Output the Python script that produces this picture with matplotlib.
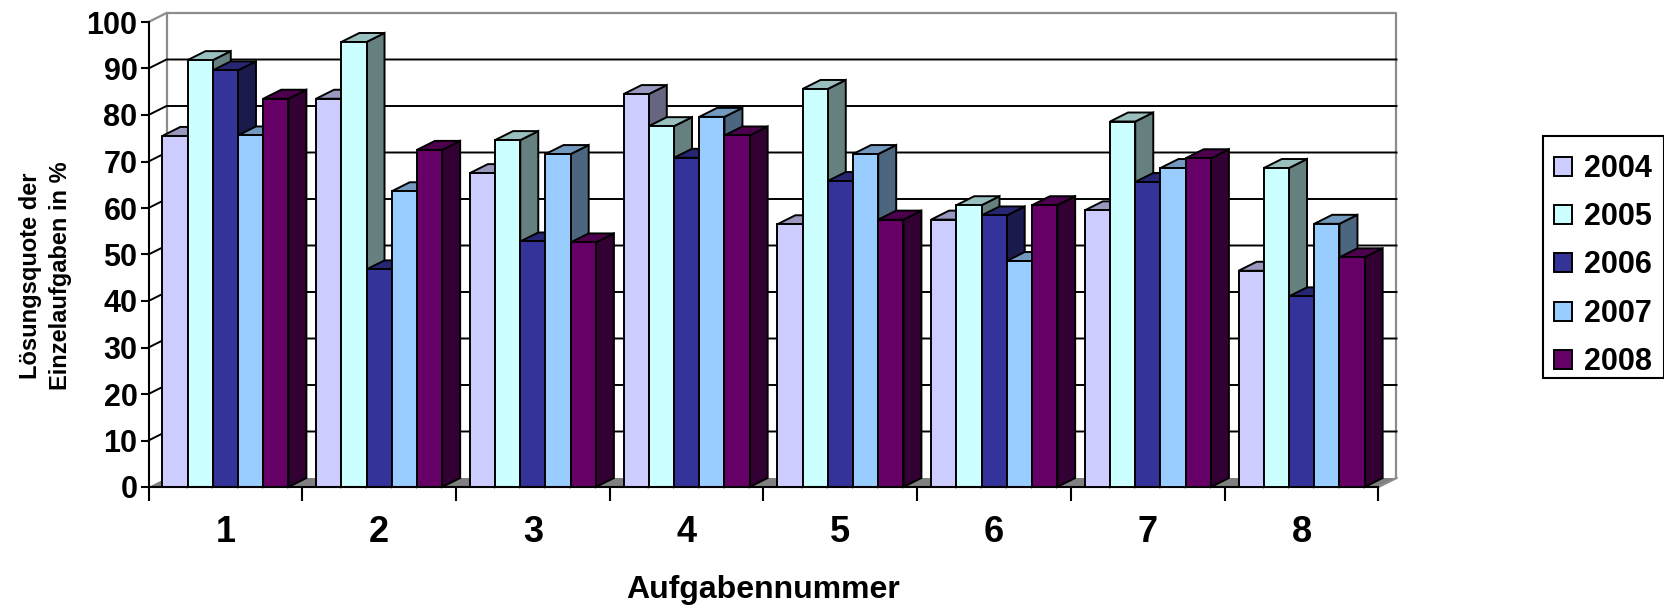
import matplotlib
matplotlib.use("Agg")
import matplotlib.pyplot as plt
from matplotlib.patches import Polygon, Rectangle
from matplotlib.colors import to_rgb

plt.rcParams['font.family'] = ['Liberation Sans', 'DejaVu Sans']
plt.rcParams['font.weight'] = 'bold'

tasks = ['1', '2', '3', '4', '5', '6', '7', '8']
years = ['2004', '2005', '2006', '2007', '2008']
v2004 = [75.5, 83.5, 67.5, 84.5, 56.5, 57.5, 59.5, 46.5]
v2005 = [91.8, 95.7, 74.6, 77.6, 85.6, 60.6, 78.6, 68.6]
v2006 = [89.6, 46.8, 52.8, 70.8, 65.8, 58.4, 65.6, 41.0]
v2007 = [75.6, 63.6, 71.6, 79.6, 71.6, 48.6, 68.6, 56.6]
v2008 = [83.5, 72.5, 52.6, 75.6, 57.5, 60.6, 70.7, 49.4]
series = [v2004, v2005, v2006, v2007, v2008]
colors = ['#CCCCFF', '#CCFFFF', '#333399', '#99CCFF', '#660066']
yticks = list(range(0, 101, 10))

W, H = 1665, 605
x0, x1, y0, y1 = 148.5, 1378.5, 487.0, 22.0
fig = plt.figure(figsize=(W / 100, H / 100), dpi=100, facecolor='white')
ax = fig.add_axes([x0 / W, 1 - y0 / H, (x1 - x0) / W, (y0 - y1) / H])
ax.set_xlim(0, 8)
ax.set_ylim(0, 100)
for s in ('top', 'right'):
    ax.spines[s].set_visible(False)
for s in ('left', 'bottom'):
    ax.spines[s].set_linewidth(1.5)
    ax.spines[s].set_zorder(6)

DX = 18.0 / 153.75          # depth in category units
DY = 9.0 / 4.65             # depth in percent units
GRAY = '#8c8c8c'
LW = 1.4

# floor and walls
ax.add_patch(Polygon([(0, 0), (8, 0), (8 + DX, DY), (DX, DY)], closed=True,
                     fc='#808080', ec='none', zorder=1, clip_on=False))
ax.plot([DX, DX, 8 + DX, 8 + DX], [DY, 100 + DY, 100 + DY, DY], color=GRAY,
        lw=1.6, zorder=1.5, clip_on=False)
ax.plot([0, DX], [100, 100 + DY], color=GRAY, lw=1.6, zorder=1.5, clip_on=False)
ax.plot([8, 8 + DX], [0, DY], color=GRAY, lw=1.6, zorder=1.5, clip_on=False)
for t in yticks[1:-1]:
    ax.plot([0, DX, 8 + DX], [t, t + DY, t + DY], color='black', lw=1.4,
            zorder=2, clip_on=False)

# bars, drawn left to right so each one hides the side of the previous one
start, bw = 0.09, 0.164
z = 3.0
handles = []
for c in range(len(tasks)):
    for i, vals in enumerate(series):
        v = vals[c]
        left = c + start + i * bw
        rgb = to_rgb(colors[i])
        bars = ax.bar(left, v, width=bw, align='edge', color=colors[i], edgecolor='black',
                      linewidth=LW, zorder=z + 0.02, clip_on=False)
        ax.add_patch(Polygon([(left + bw, 0), (left + bw + DX, DY), (left + bw + DX, v + DY), (left + bw, v)],
                             closed=True, fc=tuple(k * 0.5 for k in rgb), ec='black', lw=LW,
                             zorder=z, clip_on=False))
        ax.add_patch(Polygon([(left, v), (left + DX, v + DY), (left + bw + DX, v + DY), (left + bw, v)],
                             closed=True, fc=tuple(k * 0.75 for k in rgb), ec='black', lw=LW,
                             zorder=z + 0.01, clip_on=False))
        z += 0.1
        if c == 0:
            handles.append(bars[0])

# ticks
ax.set_yticks(yticks)
ax.tick_params(axis='y', length=6, width=1.5, labelsize=22, pad=2)
ax.set_xticks(range(0, 9))
ax.set_xticklabels([])
ax.set_xticks([k + 0.5 for k in range(8)], minor=True)
ax.set_xticklabels(tasks, minor=True, fontsize=26)
ax.tick_params(axis='x', which='major', length=10, width=1.5)
ax.tick_params(axis='x', which='minor', length=0, pad=20)

ax.set_xlabel('Aufgabennummer', fontsize=23, fontweight='bold', va='center')
ax.xaxis.set_label_coords(0.5, -0.222)
ax.set_ylabel('Lösungsquote der\nEinzelaufgaben in %', fontsize=17, fontweight='bold',
              va='center', ha='center', linespacing=1.37)
ax.yaxis.set_label_coords(-0.084, 0.454)

# legend frame has more room above the rows than below, so it is a separate box
fig.add_artist(Rectangle((1543 / W, 1 - 378 / H), 121 / W, 242 / H, transform=fig.transFigure,
                         fc='white', ec='black', lw=1.5))
leg = fig.legend(handles, years, loc='upper left',
                 bbox_to_anchor=(1543 / W, 1 - 142.5 / H), bbox_transform=fig.transFigure,
                 fontsize=22, frameon=False,
                 borderpad=0.37, labelspacing=0.6, handlelength=0.58, handleheight=0.58,
                 handletextpad=0.39, borderaxespad=0)

fig.savefig('out.png', dpi=100, facecolor='white')
